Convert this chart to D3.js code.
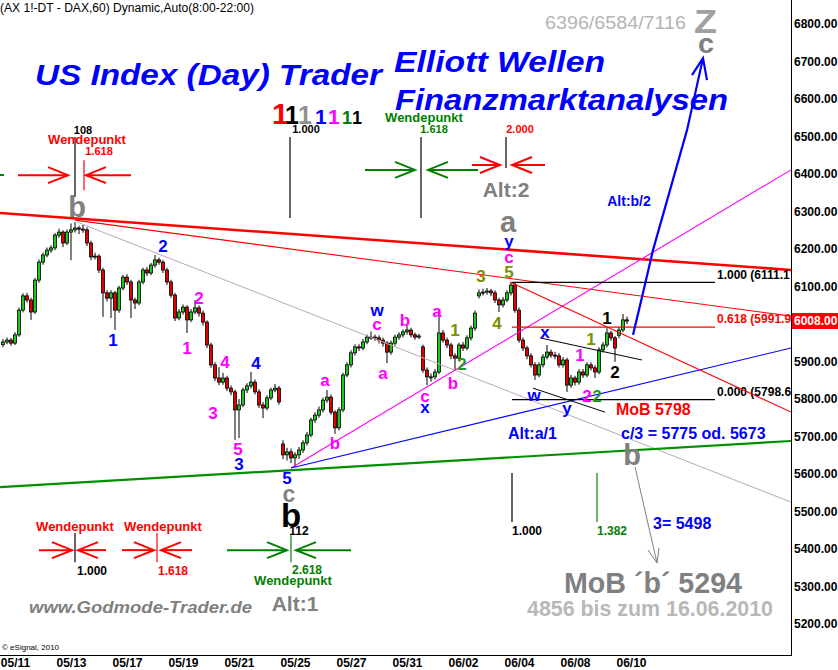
<!DOCTYPE html>
<html><head><meta charset="utf-8">
<script src="https://cdn.jsdelivr.net/npm/d3@7"></script>
<style>body{margin:0;background:#fff}svg{display:block}text{font-family:"Liberation Sans",Arial,sans-serif}</style>
</head><body><svg id="c" width="838" height="670"></svg>
<script>
// ---------- DATA (hourly-ish DAX bars, 7 bars per trading day) ----------
const opens=[5945,5952,5957,5949,5971,6037,6075,6064,6032,6117,
6165,6184,6197,6203,6237,6245,6216,6245,6251,6256,
6253,6251,6216,6179,6181,6144,6083,6069,6083,6037,
6096,6125,6112,6064,6056,6112,6144,6136,6157,6171,
6165,6144,6112,6077,6016,6032,6045,6011,6032,6043,
6029,6005,5944,5891,5856,5845,5856,5829,5819,5771,
5784,5824,5835,5845,5819,5784,5776,5803,5824,5829,
5680,5651,5659,5643,5651,5664,5683,5704,5744,5757,
5771,5797,5805,5765,5723,5771,5864,5891,5923,5939,
5936,5952,5965,5965,5963,5957,5949,5925,5949,5965,
5971,5979,5984,5971,5965,5939,5877,5859,5859,5872,
5976,5957,5944,5915,5909,5944,5936,5963,5989,6075,
6083,6085,6088,6083,6064,6051,6064,6083,6104,6037,
5957,5936,5915,5891,5864,5891,5912,5925,5917,5915,
5891,5904,5837,5856,5845,5872,5864,5891,5883,5872,
5931,5944,5976,5963,5970,5984,6011];
const closes=[5952,5957,5949,5971,6037,6075,6064,6032,6117,6165,
6184,6197,6203,6237,6245,6216,6245,6251,6256,6253,
6251,6216,6179,6181,6144,6083,6069,6083,6037,6096,
6125,6112,6064,6056,6112,6144,6136,6157,6171,6165,
6144,6112,6077,6016,6032,6045,6011,6032,6043,6029,
6005,5944,5891,5856,5845,5856,5829,5819,5771,5784,
5824,5835,5845,5819,5784,5776,5803,5824,5829,5792,
5651,5659,5643,5651,5664,5683,5704,5744,5757,5771,
5797,5805,5765,5723,5771,5864,5891,5923,5939,5936,
5952,5965,5965,5963,5957,5949,5925,5949,5965,5971,
5979,5984,5971,5965,5968,5877,5859,5859,5872,5976,
5957,5944,5915,5909,5944,5936,5963,5989,6029,6083,
6085,6088,6083,6064,6051,6064,6083,6104,6037,5957,
5936,5915,5891,5864,5891,5912,5925,5917,5915,5891,
5904,5837,5856,5845,5872,5864,5891,5883,5872,5931,
5944,5976,5963,5936,5984,6011,6008];
const highs=[5960,5964,5963,5978,6044,6082,6083,6070,6123,6172,
6190,6204,6210,6243,6254,6250,6252,6268,6272,6262,
6264,6258,6222,6190,6186,6150,6090,6090,6088,6102,
6131,6133,6118,6070,6118,6150,6152,6163,6184,6177,
6171,6150,6118,6083,6040,6052,6050,6040,6064,6050,
6036,6010,5950,5898,5885,5870,5862,5836,5825,5800,
5830,5842,5872,5852,5826,5792,5810,5830,5840,5835,
5690,5670,5668,5658,5672,5690,5712,5750,5765,5780,
5804,5824,5812,5770,5778,5870,5898,5930,5946,5946,
5960,5972,5980,5972,5970,5964,5955,5956,5972,5978,
5986,5995,5990,5977,5974,5945,5884,5868,5880,6037,
5984,5964,5950,5922,5950,5952,5970,5996,6036,6092,
6094,6096,6094,6090,6070,6072,6090,6112,6110,6044,
5964,5942,5922,5898,5898,5920,5944,5932,5926,5922,
5912,5910,5864,5862,5880,5880,5898,5898,5890,5938,
5952,5989,5982,5968,5992,6027,6020];
const lows=[5938,5946,5942,5944,5966,6031,6057,6011,6027,6110,
6158,6178,6190,6197,6230,6205,6210,6170,6244,6240,
6243,6208,6170,6172,6136,6019,6060,6016,5984,6030,
6090,6104,6016,6040,6050,6106,6128,6130,6150,6158,
6136,6104,6070,6008,6010,6025,5976,6005,6026,6020,
5996,5936,5883,5848,5837,5838,5821,5810,5691,5696,
5778,5816,5828,5812,5776,5749,5770,5797,5818,5785,
5640,5636,5629,5619,5640,5656,5676,5698,5736,5750,
5764,5790,5758,5707,5716,5765,5858,5884,5916,5928,
5930,5946,5958,5955,5948,5940,5896,5918,5942,5958,
5964,5972,5964,5958,5960,5870,5837,5846,5852,5866,
5950,5936,5906,5877,5902,5928,5930,5956,5982,6068,
6076,6078,6074,6056,6032,6044,6058,6076,6030,5950,
5928,5906,5884,5851,5858,5884,5906,5910,5906,5884,
5884,5819,5830,5836,5838,5856,5858,5876,5856,5866,
5924,5938,5955,5899,5962,5978,6000];
const barsPerDay=7;
const dateLabels=["05/11","05/13","05/17","05/19","05/21","05/25","05/27","05/31","06/02","06/04","06/08","06/10"];
const dateDayIndex=[0,2,4,6,8,10,12,14,16,18,20,22];
const yTicks=[6800,6700,6600,6500,6400,6300,6200,6100,5900,5800,5700,5600,5500,5400,5300,5200];
const lastPrice=6008;
// fibonacci levels
const fibRatios=["1.000","0.618","0.000"];
const fibPrices=[6111.1,5991.9,5798.6];
// trend lines: [barFrom, priceFrom, barTo, priceTo]
const lineThickRed=[-0.25,6296,197.5,6144];
const lineRed1=[18.5,6277,197.5,6021];
const lineRed2=[127.25,6112,197.5,5765];
const lineMagenta=[72.5,5616,197.5,6411];
const lineBlue=[72.5,5616,197.5,5936];
const lineGreen=[-0.25,5565,197.5,5688];
const lineGray=[19,6272,197.5,5525];
const chanUpper=[134.75,5963,160.25,5904];
const chanLower=[133,5829,151,5765];
// wave labels: [text, bar, price, colorKey]
const waveLabels=[
 ["1",28,5957,"blue"],["2",40.5,6208,"blue"],["2",49.5,6069,"mag"],["1",46.5,5936,"mag"],
 ["4",56,5899,"mag"],["4",63.75,5896,"blue"],["3",53,5763,"mag"],["5",59.25,5667,"mag"],
 ["3",59.5,5627,"blue"],["5",71.5,5589,"blue"],
 ["a",81,5851,"mag"],["b",83.5,5683,"mag"],["w",94,6037,"blue"],["c",94,6000,"mag"],
 ["b",101,6011,"mag"],["a",95.5,5869,"mag"],["c",106,5808,"mag"],["x",106,5779,"blue"],
 ["a",109,6035,"mag"],["1",113.5,5984,"olive"],["2",115.25,5893,"green"],["b",113,5843,"mag"],
 ["3",120,6128,"olive"],["5",127,6139,"olive"],["c",127,6179,"mag"],["y",127,6221,"blue"],
 ["4",124,6003,"olive"],["x",136,5979,"blue"],["w",133.25,5811,"blue"],["y",141.5,5776,"blue"],
 ["1",144.75,5917,"mag"],["1",147.5,5960,"olive"],["1",151.5,6016,"black"],["2",153.5,5872,"black"],
 ["2",146.5,5808,"mag"],["2",149,5808,"green"]];
// big grey wave letters: [text, bar, price]
const bigLetters=[["b",19,6312],["a",126.75,6272],["b",157.75,5651]];
// blue projection path (bar, price)
const projBars=[158,160.5,163,171.5,175.5];
const projPrices=[5971,6083,6197,6517,6709];

// ---------- SETUP ----------
const svg=d3.select("#c");
svg.append("rect").attr("width",838).attr("height",670).attr("fill","#fff");
const x=d3.scaleLinear().domain([0,197.5]).range([1,791]);
const y=d3.scaleLinear().domain([5200,6800]).range([624,24]);
svg.append("clipPath").attr("id","pc").append("rect").attr("x",0).attr("y",0).attr("width",791).attr("height",655);
const g=svg.append("g").attr("clip-path","url(#pc)");
const COL={blue:"#0000ff",mag:"#ff00ff",olive:"#7a9000",green:"#1e9a1e",black:"#000",red:"#ff0000",gray:"#808080",dgreen:"#008000"};

// ---------- CANDLES ----------
const bars=closes.map((c,i)=>({i,o:opens[i],h:highs[i],l:lows[i],c}));
const cg=g.append("g");
cg.selectAll("line.w").data(bars).join("line")
 .attr("x1",d=>x(d.i+0.5)).attr("x2",d=>x(d.i+0.5))
 .attr("y1",d=>y(d.h)).attr("y2",d=>y(d.l)).attr("stroke","#000").attr("stroke-width",1);
cg.selectAll("rect").data(bars).join("rect")
 .attr("x",d=>x(d.i+0.5)-1.5).attr("width",3)
 .attr("y",d=>y(Math.max(d.o,d.c))).attr("height",d=>Math.max(1,Math.abs(y(d.o)-y(d.c))))
 .attr("fill",d=>d.c>=d.o?"#22c422":"#e00000").attr("stroke","#000").attr("stroke-width",0.8);

// ---------- LINES ----------
function tl(a,col,w){g.append("line").attr("x1",x(a[0])).attr("y1",y(a[1])).attr("x2",x(a[2])).attr("y2",y(a[3])).attr("stroke",col).attr("stroke-width",w);}
tl(lineGray,"#b9a9bb",1);
tl(lineGreen,"#009000",2.2);
tl(lineThickRed,"#ff0000",2.6);
tl(lineRed1,"#ff0000",1.1);
tl(lineMagenta,"#ff00ff",1.1);
tl(lineBlue,"#0000ff",1.1);
tl(chanUpper,"#000",1);
tl(chanLower,"#000",1);
// fib levels
const fibCols=["#000","#ff0000","#000"];
fibPrices.forEach((p,k)=>{
  g.append("line").attr("x1",x(127.75)).attr("x2",x(178.5)).attr("y1",y(p)).attr("y2",y(p)).attr("stroke",fibCols[k]).attr("stroke-width",1.2);
  g.append("text").attr("x",x(179)).attr("y",y(p)-8).attr("dy","0.35em").attr("font-size",12).attr("font-weight","bold")
   .attr("fill",fibCols[k]).text(fibRatios[k]+" ("+p.toFixed(1));
});
tl(lineRed2,"#ff0000",1.1);

// ---------- MARKERS (Wendepunkt) ----------
function vl(u,p1,p2,col,w){g.append("line").attr("x1",x(u)).attr("x2",x(u)).attr("y1",y(p1)).attr("y2",y(p2)).attr("stroke",col).attr("stroke-width",w||1.2);}
function arrows(cx,yy,tipL,tipR,lenL,lenR,col){
  const a=g.append("g").attr("stroke",col).attr("stroke-width",2).attr("fill","none");
  a.append("line").attr("x1",tipL-lenL).attr("x2",tipL).attr("y1",yy).attr("y2",yy);
  a.append("path").attr("d",`M${tipL-20},${yy-8}L${tipL},${yy}L${tipL-20},${yy+8}`);
  a.append("line").attr("x1",tipR+lenR).attr("x2",tipR).attr("y1",yy).attr("y2",yy);
  a.append("path").attr("d",`M${tipR+20},${yy-8}L${tipR},${yy}L${tipR+20},${yy+8}`);
}
function txt(t,px,py,col,size,anchor,weight,style){
  return g.append("text").attr("x",px).attr("y",py).attr("dy","0.35em").attr("text-anchor",anchor||"middle")
   .attr("font-size",size).attr("font-weight",weight||"bold").attr("font-style",style||"normal").attr("fill",col).text(t);
}
// top-left red at b
vl(18.5,6499,6339,"#000",1.2);
vl(20.75,6437,6357,"#ff0000",1.2);
arrows(x(18.5),y(6397),x(18.5)-7,x(18.5)+11,50,45,"#ff0000");
txt("108",x(20.5),y(6517),"#000",11);
txt("Wendepunkt",x(21.5),y(6491),"#ff0000",13);
txt("1.618",x(24.5),y(6461),"#ff0000",11);
// 1.000 top
vl(72.25,6499,6283,"#000",1.2);
txt("1.000",x(76.25),y(6520),"#000",11);
// green 1.618 top
vl(105,6499,6283,"#000",1.2);
txt("Wendepunkt",x(105.75),y(6552),COL.dgreen,13);
txt("1.618",x(108.25),y(6520),COL.dgreen,11);
arrows(x(105),y(6411),x(105)-6,x(105)+7,50,50,COL.dgreen);
// red 2.000 top
vl(126.25,6499,6416,"#000",1.2);
txt("2.000",x(129.75),y(6520),"#ff0000",11);
arrows(x(126.25),y(6424),x(126.25)-6,x(126.25)+6,28,33,"#ff0000");
txt("Alt:2",x(126.25),y(6357),COL.gray,21);
// bottom red 1.000
vl(18.5,5443,5365,"#000",1.2);
txt("Wendepunkt",x(18.5),y(5461),"#ff0000",13);
txt("1.000",x(22.75),y(5341),"#000",12);
arrows(x(18.5),y(5397),x(18.5)-3,x(18.5)+3,33,28,"#ff0000");
// bottom red 1.618
vl(39,5443,5365,"#ff0000",1.2);
txt("Wendepunkt",x(40.5),y(5461),"#ff0000",13);
txt("1.618",x(43),y(5341),"#ff0000",12);
arrows(x(39),y(5397),x(39)-3,x(39)+4,32,31,"#ff0000");
// bottom green 2.618
vl(72.5,5437,5365,COL.dgreen,1.2);
txt("2.618",x(76.5),y(5344),COL.dgreen,12);
txt("Wendepunkt",x(73),y(5317),COL.dgreen,13);
arrows(x(72.5),y(5397),x(72.5)-4,x(72.5)+5,60,55,COL.dgreen);
txt("Alt:1",x(73.5),y(5253),COL.gray,21);
// time-cycle markers lower right
vl(127.75,5603,5472,"#000",1.2);
txt("1.000",x(131.5),y(5448),"#000",12);
vl(149,5603,5472,COL.dgreen,1.2);
txt("1.382",x(152.75),y(5448),COL.dgreen,12);

// ---------- WAVE LABELS ----------
waveLabels.forEach(([t,u,p,c])=>txt(t,x(u),y(p),COL[c],17));
bigLetters.forEach(([t,u,p])=>txt(t,x(u),y(p),COL.gray,29));
txt("c",x(72),y(5547),COL.gray,23);
txt("b",x(72.5),y(5489),"#000",33);
txt("112",x(74.5),y(5449),"#000",12);

// ---------- PROJECTIONS ----------
const pl=d3.line().x((d,i)=>x(projBars[i])).y(d=>y(d));
g.append("path").attr("d",pl(projPrices)).attr("fill","none").attr("stroke","#0000ff").attr("stroke-width",2.2);
{const tx=x(175.5),ty=y(6709);
 g.append("path").attr("d",`M${tx-11},${ty+17}L${tx},${ty}L${tx+4},${ty+22}`).attr("fill","none").attr("stroke","#0000ff").attr("stroke-width",2.2);}
txt("Alt:b/2",x(157),y(6328),"#0000ff",14);
// grey arrow down
{const x1=x(158.5),y1=y(5619),x2=x(164),y2=y(5363);
 g.append("line").attr("x1",x1).attr("y1",y1).attr("x2",x2).attr("y2",y2).attr("stroke","#808080").attr("stroke-width",1);
 g.append("path").attr("d",`M${x2-9},${y2-13}L${x2},${y2}L${x2+2},${y2-15}`).attr("fill","none").attr("stroke","#808080").attr("stroke-width",1);}
txt("MoB 5798",x(153.75),y(5771),"#ff0000",16,"start");
txt("Alt:a/1",x(126.75),y(5709),"#0000ff",16,"start");
txt("c/3 = 5775 od. 5673",x(155),y(5709),"#0000ff",16,"start");
txt("3= 5498",x(163),y(5467),"#0000ff",16,"start");

// ---------- AXES ----------
svg.append("line").attr("x1",791.5).attr("x2",791.5).attr("y1",0).attr("y2",655).attr("stroke","#000");
svg.append("line").attr("x1",0).attr("x2",792).attr("y1",655.5).attr("y2",655.5).attr("stroke","#000");
const ya=svg.append("g").attr("transform","translate(791,0)").call(d3.axisRight(y).tickValues(yTicks).tickSize(0).tickPadding(3).tickFormat(d3.format(".2f")));
ya.select(".domain").remove();
ya.selectAll("text").attr("font-size",12).attr("font-weight","bold").attr("font-family","Liberation Sans, Arial, sans-serif").attr("fill","#000");
const xa=svg.append("g").attr("transform","translate(0,655)").call(d3.axisBottom(x).tickValues(dateDayIndex.map(d=>d*barsPerDay+barsPerDay/2)).tickSize(0).tickPadding(3).tickFormat((d,i)=>dateLabels[i]));
xa.select(".domain").remove();
xa.selectAll("text").attr("font-size",12).attr("font-weight","bold").attr("font-family","Liberation Sans, Arial, sans-serif").attr("fill","#000");
// last price box
svg.append("rect").attr("x",792).attr("y",y(lastPrice)-8).attr("width",46).attr("height",16).attr("fill","#ff0000");
svg.append("text").attr("x",794).attr("y",y(lastPrice)).attr("dy","0.35em").attr("font-size",12).attr("font-weight","bold").attr("fill","#fff").text(lastPrice.toFixed(2));

// ---------- TITLES / DECORATION ----------
function st(t,px,py,col,size,len,style,weight){
  const e=svg.append("text").attr("x",px).attr("y",py).attr("fill",col).attr("font-size",size)
   .attr("font-weight",weight||"bold").attr("font-style",style||"normal").text(t);
  if(len) e.attr("textLength",len).attr("lengthAdjust","spacingAndGlyphs");
  return e;
}
st("(AX 1!-DT - DAX,60) Dynamic,Auto(8:00-22:00)",0,12,"#000",12,254,"normal","normal");
st("US Index (Day) Trader",35,85,"#0000ff",30,347,"italic");
st("Elliott Wellen",394,72,"#0000ff",30,211,"italic");
st("Finanzmarktanalysen",395,110,"#0000ff",30,333,"italic");
st("6396/6584/7116",545,29,"#b4b4b4",18,141,"normal","normal");
st("Z",694,33,"#a0a0a0",34,23);
st("c",698,53,"#808080",27,16);
const ones=[["1","#ff0000",30,272],["1","#000",25,285],["1","#909090",25,298],["1","#0000ff",21,315],["1","#ff00ff",21,328],["1","#008000",18,342],["1","#000",18,352]];
ones.forEach(([t,c,s,px])=>st(t,px,124,c,s));
st("www.Godmode-Trader.de",29,613,"#808080",16,223,"italic");
st("MoB ´b´ 5294",564,593,"#808080",29,178);
st("4856 bis zum 16.06.2010",527,616,"#b8b8b8",22,246);
st("© eSignal, 2010",2,650,"#000",8,null,"normal","normal");
svg.append("line").attr("x1",0).attr("x2",4).attr("y1",175).attr("y2",175).attr("stroke","#008000").attr("stroke-width",2);
</script></body></html>
